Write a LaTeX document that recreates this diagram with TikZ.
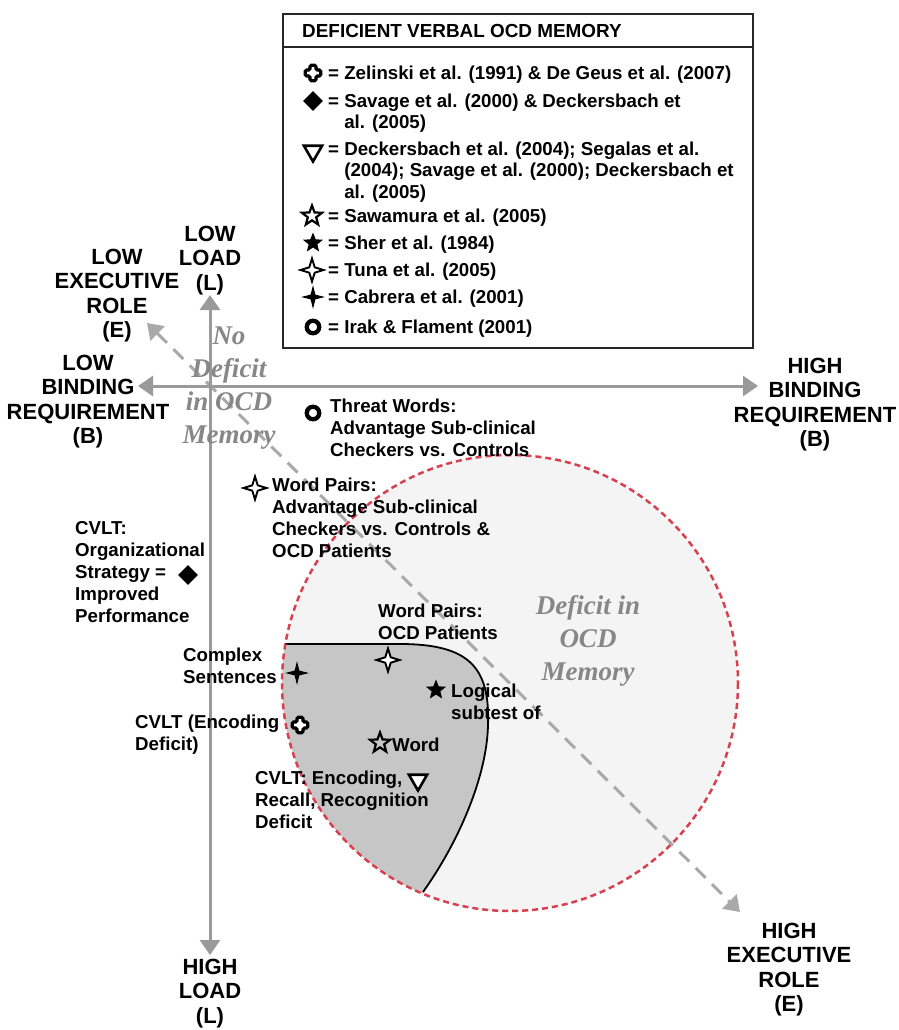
\documentclass[tikz,border=0pt]{standalone}
\usepackage{fontspec}
\setmainfont{Liberation Sans}
\newfontfamily\myserif{Liberation Serif}
\usetikzlibrary{arrows.meta,shapes.geometric}
\definecolor{axgray}{HTML}{9A9A9A}
\definecolor{diaggray}{HTML}{A9A9A9}
\definecolor{itgray}{HTML}{878787}
\definecolor{circfill}{HTML}{F4F4F4}
\definecolor{regfill}{HTML}{C6C6C6}
\definecolor{circred}{HTML}{D8404F}
\newcommand{\myann}{\bfseries\fontsize{18.7}{22}\selectfont}
\newcommand{\myleg}{\bfseries\fontsize{18.7}{21.5}\selectfont}
\newcommand{\myax}{\bfseries\fontsize{22}{24.5}\selectfont}
\newcommand{\myit}{\myserif\bfseries\itshape\fontsize{27}{33}\selectfont}
\tikzset{
  ann/.style={font=\myann, align=left, anchor=north west, inner sep=0pt, execute at begin node=\strut},
  leg/.style={font=\myleg, align=left, anchor=north west, inner sep=0pt, execute at begin node=\strut},
  axlab/.style={font=\myax, align=center, anchor=north, inner sep=0pt, execute at begin node=\strut},
  bigit/.style={font=\myit, text=itgray, align=center, inner sep=0pt},
  axis/.style={draw=axgray, line width=3pt, {Triangle[width=20pt,length=15pt]}-{Triangle[width=20pt,length=15pt]}},
  diag/.style={draw=diaggray, line width=3pt, dash pattern=on 14pt off 9pt, {Triangle[width=20pt,length=15pt]}-{Triangle[width=20pt,length=15pt]}},
  mring/.style={circle, draw=black, line width=4.3pt, minimum size=12.5pt, inner sep=0pt},
  mdiam/.style={diamond, fill=black, minimum size=20pt, inner sep=0pt},
  mtri/.style={regular polygon, regular polygon sides=3, shape border rotate=180, draw=black, line width=2.6pt, fill=white, minimum size=21pt, inner sep=0pt},
  mstar/.style={star, star points=5, star point ratio=2.3, fill=black, minimum size=21pt, inner sep=0pt},
  mstaro/.style={star, star points=5, star point ratio=2.4, draw=black, line width=2.2pt, minimum size=21pt, inner sep=0pt},
  mtuna/.style={star, star points=4, star point ratio=3, draw=black, line width=1.9pt, fill=white, minimum size=23pt, inner sep=0pt},
  mcab/.style={star, star points=4, star point ratio=3.6, fill=black, minimum size=24pt, inner sep=0pt},
  zel/.pic={\draw[line width=3.2pt, fill=white, rounded corners=1.5pt] (-3,-7.8) -- (3,-7.8) -- (3,-3) -- (7.8,-3) -- (7.8,3) -- (3,3) -- (3,7.8) -- (-3,7.8) -- (-3,3) -- (-7.8,3) -- (-7.8,-3) -- (-3,-3) -- cycle;}
}
\begin{document}
\begin{tikzpicture}[x=1pt,y=-1pt]
\useasboundingbox (0,0) rectangle (898,1030);
% deficit circle
\coordinate (cc) at (510,683);
\fill[circfill] (cc) circle (228);
\begin{scope}
  \clip (cc) circle (228);
  \fill[regfill] (285,644) -- (400,644) .. controls (470,644) and (490,668) .. (488,725) .. controls (487,775) and (460,840) .. (423,892) -- (423,960) -- (250,960) -- (250,644) -- cycle;
\end{scope}
\draw[black, line width=1.8pt] (285,644) -- (400,644) .. controls (470,644) and (490,668) .. (488,725) .. controls (487,775) and (460,840) .. (423,892);
\draw[circred, line width=2.5pt, dash pattern=on 6pt off 4pt] (cc) circle (228);
% axes
\coordinate (vt) at (210,295);
\coordinate (vb) at (210,955);
\coordinate (hl) at (138,386);
\coordinate (hr) at (758,386);
\coordinate (dl) at (147,323);
\coordinate (dr) at (740,912);
\draw[diag] (dl) -- (dr);
\draw[axis] (vt) -- (vb);
\draw[axis] (hl) -- (hr);
% italic region labels
\node[bigit] (nodef) at (229,388) {No\\Deficit\\in OCD\\Memory};
\node[bigit] (def) at (588,641) {Deficit in\\OCD\\Memory};
% axis labels
\node[axlab] (lowload) at (210,225.5) {LOW\\LOAD\\(L)};
\node[axlab] (lowexec) at (117,248.5) {LOW\\EXECUTIVE\\ROLE\\(E)};
\node[axlab] (lowbind) at (88,354.5) {LOW\\BINDING\\REQUIREMENT\\(B)};
\node[axlab] (highbind) at (815,357.5) {HIGH\\BINDING\\REQUIREMENT\\(B)};
\node[axlab] (highload) at (210,958.5) {HIGH\\LOAD\\(L)};
\node[axlab] (highexec) at (789,922.5) {HIGH\\EXECUTIVE\\ROLE\\(E)};
% legend box
\draw[line width=1.5pt, draw=black!85] (283,14) rectangle (753,348);
\draw[line width=1.5pt, draw=black!85] (283,47) -- (753,47);
\node[font=\bfseries\fontsize{18.9}{22}\selectfont, anchor=base west, inner sep=0pt] (title) at (302,38) {DEFICIENT VERBAL OCD MEMORY};
\pic at (313,73) {zel};
\node[mdiam] (lg2) at (313,101) {};
\node[mtri] (lg3) at (313,151) {};
\node[mstaro] (lg4) at (312,216) {};
\node[mstar] (lg5) at (313,243) {};
\node[mtuna] (lg6) at (312,270) {};
\node[mcab] (lg7) at (313,297) {};
\node[mring] (lg8) at (313,327) {};
\node[leg] (t1) at (328,64.4) {= Zelinski et al. (1991) \& De Geus et al. (2007)};
\node[leg] (t2) at (328,93.4) {= Savage et al. (2000) \& Deckersbach et\\\hphantom{= }al. (2005)};
\node[leg] (t3) at (328,141.4) {= Deckersbach et al. (2004); Segalas et al.\\\hphantom{= }(2004); Savage et al. (2000); Deckersbach et\\\hphantom{= }al. (2005)};
\node[leg] (t4) at (328,207.4) {= Sawamura et al. (2005)};
\node[leg] (t5) at (328,234.4) {= Sher et al. (1984)};
\node[leg] (t6) at (328,261.4) {= Tuna et al. (2005)};
\node[leg] (t7) at (328,288.4) {= Cabrera et al. (2001)};
\node[leg] (t8) at (328,318.4) {= Irak \& Flament (2001)};
% data markers
\node[mring] (m1) at (313,413) {};
\node[mtuna] (m2) at (255,488) {};
\node[mdiam] (m3) at (188,575) {};
\node[mtuna] (m4) at (388,660) {};
\node[mcab] (m5) at (297,673) {};
\node[mstar] (m6) at (436,690) {};
\pic at (300,725) {zel};
\node[mstaro] (m8) at (380,743) {};
\node[mtri] (m9) at (418,780) {};
% annotations
\node[ann] (a1) at (330,399) {Threat Words:\\Advantage Sub-clinical\\Checkers vs. Controls};
\node[ann] (a2) at (272,478) {Word Pairs:\\Advantage Sub-clinical\\Checkers vs. Controls \&\\OCD Patients};
\node[ann] (a3) at (75,521) {CVLT:\\Organizational\\Strategy =\\Improved\\Performance};
\node[ann] (a4) at (378,604) {Word Pairs:\\OCD Patients};
\node[ann] (a5) at (183,648) {Complex\\Sentences};
\node[ann] (a6) at (451,684) {Logical\\subtest of};
\node[ann] (a7) at (135,715) {CVLT (Encoding\\Deficit)};
\node[ann] (a8) at (392,736) {Word};
\node[ann] (a9) at (255,771) {CVLT: Encoding,\\Recall, Recognition\\Deficit};
\end{tikzpicture}
\end{document}
